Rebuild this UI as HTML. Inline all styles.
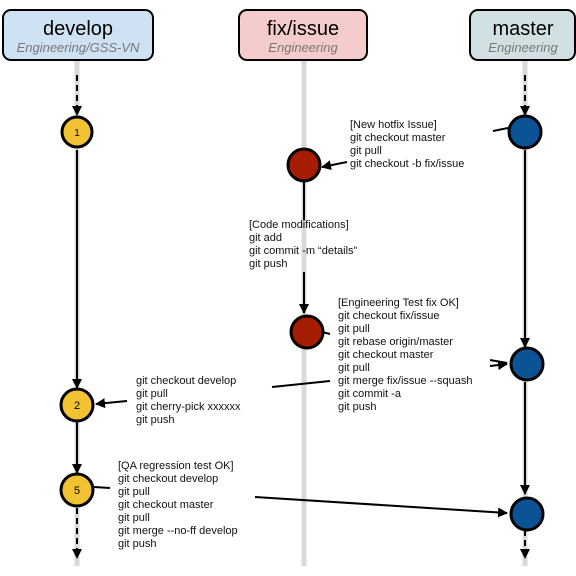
<!DOCTYPE html>
<html><head><meta charset="utf-8"><style>
html,body{margin:0;padding:0;background:#fff}
svg{display:block}
text{font-family:"Liberation Sans",Arial,sans-serif}
.t{font-size:11px;fill:#111}
</style></head><body>
<svg width="576" height="576" viewBox="0 0 576 576" xmlns="http://www.w3.org/2000/svg">
<defs>
<marker id="a" viewBox="0 0 10 10" refX="9" refY="5" markerWidth="5" markerHeight="5" orient="auto"><path d="M0,0 L10,5 L0,10 z" fill="#000"/></marker>
</defs>
<!-- lanes -->
<g stroke="#d9d9d9" stroke-width="5">
<line x1="77" y1="60" x2="77" y2="566"/>
<line x1="304" y1="60" x2="304" y2="566"/>
<line x1="525" y1="60" x2="525" y2="566"/>
</g>
<!-- headers -->
<rect x="3" y="10" width="150" height="50" rx="8" fill="#cfe2f3" stroke="#000" stroke-width="2"/>
<text x="78" y="35" font-size="20" text-anchor="middle">develop</text>
<text x="78" y="52" font-size="13" font-style="italic" fill="#777" text-anchor="middle">Engineering/GSS-VN</text>
<rect x="239" y="10" width="128" height="50" rx="8" fill="#f4cccc" stroke="#000" stroke-width="2"/>
<text x="303" y="35" font-size="20" text-anchor="middle">fix/issue</text>
<text x="303" y="52" font-size="13" font-style="italic" fill="#777" text-anchor="middle">Engineering</text>
<rect x="470" y="10" width="105" height="50" rx="8" fill="#d0e0e3" stroke="#000" stroke-width="2"/>
<text x="523" y="35" font-size="20" text-anchor="middle">master</text>
<text x="523" y="52" font-size="13" font-style="italic" fill="#777" text-anchor="middle">Engineering</text>
<!-- vertical connectors -->
<g stroke="#000" stroke-width="2" fill="none">
<line x1="77" y1="75" x2="77" y2="115" stroke-dasharray="6,4" marker-end="url(#a)"/>
<line x1="77" y1="150" x2="77" y2="388" marker-end="url(#a)"/>
<line x1="77" y1="422" x2="77" y2="473" marker-end="url(#a)"/>
<line x1="77" y1="508" x2="77" y2="558" stroke-dasharray="6,4" marker-end="url(#a)"/>
<line x1="525" y1="75" x2="525" y2="115" stroke-dasharray="6,4" marker-end="url(#a)"/>
<line x1="525" y1="150" x2="525" y2="347" marker-end="url(#a)"/>
<line x1="525" y1="382" x2="525" y2="494" marker-end="url(#a)"/>
<line x1="525" y1="530" x2="525" y2="558" stroke-dasharray="6,4" marker-end="url(#a)"/>
<line x1="304" y1="182" x2="304" y2="220"/>
<line x1="304" y1="272" x2="304" y2="313" marker-end="url(#a)"/>
<!-- cross -->
<line x1="508" y1="128" x2="493" y2="131"/>
<line x1="347" y1="162" x2="322" y2="167" marker-end="url(#a)"/>
<line x1="322" y1="332" x2="330" y2="334"/>
<line x1="330" y1="381" x2="272" y2="387"/>
<line x1="127" y1="401" x2="96" y2="404" marker-end="url(#a)"/>
<line x1="490" y1="360" x2="507" y2="363"/>
<line x1="490" y1="366" x2="507" y2="364" marker-end="url(#a)"/>
<line x1="94" y1="487" x2="110" y2="488"/>
<line x1="255" y1="497" x2="507" y2="513" marker-end="url(#a)"/>
</g>
<!-- commits -->
<g stroke="#000" stroke-width="3">
<circle cx="77" cy="132" r="15" fill="#f1c232"/>
<circle cx="77" cy="405" r="16" fill="#f1c232"/>
<circle cx="77" cy="490" r="16" fill="#f1c232"/>
<circle cx="304" cy="165" r="16" fill="#a61c00"/>
<circle cx="307" cy="332" r="16" fill="#a61c00"/>
<circle cx="525" cy="132" r="16" fill="#0b5394"/>
<circle cx="527" cy="364" r="16" fill="#0b5394"/>
<circle cx="527" cy="514" r="16" fill="#0b5394"/>
</g>
<text x="77" y="136" font-size="10" text-anchor="middle">1</text>
<text x="77" y="409" font-size="11" text-anchor="middle">2</text>
<text x="77" y="494" font-size="11" text-anchor="middle">5</text>
<!-- labels -->
<g class="t">
<text x="350" y="128">[New hotfix Issue]</text>
<text x="350" y="141">git checkout master</text>
<text x="350" y="154">git pull</text>
<text x="350" y="167">git checkout -b fix/issue</text>
<text x="249" y="228">[Code modifications]</text>
<text x="249" y="241">git add</text>
<text x="249" y="254">git commit -m “details”</text>
<text x="249" y="267">git push</text>
<text x="338" y="306">[Engineering Test fix OK]</text>
<text x="338" y="319">git checkout fix/issue</text>
<text x="338" y="332">git pull</text>
<text x="338" y="345">git rebase origin/master</text>
<text x="338" y="358">git checkout master</text>
<text x="338" y="371">git pull</text>
<text x="338" y="384">git merge fix/issue --squash</text>
<text x="338" y="397">git commit -a</text>
<text x="338" y="410">git push</text>
<text x="136" y="384">git checkout develop</text>
<text x="136" y="397">git pull</text>
<text x="136" y="410">git cherry-pick xxxxxx</text>
<text x="136" y="423">git push</text>
<text x="118" y="469">[QA regression test OK]</text>
<text x="118" y="482">git checkout develop</text>
<text x="118" y="495">git pull</text>
<text x="118" y="508">git checkout master</text>
<text x="118" y="521">git pull</text>
<text x="118" y="534">git merge --no-ff develop</text>
<text x="118" y="547">git push</text>
</g>
</svg>
</body></html>
